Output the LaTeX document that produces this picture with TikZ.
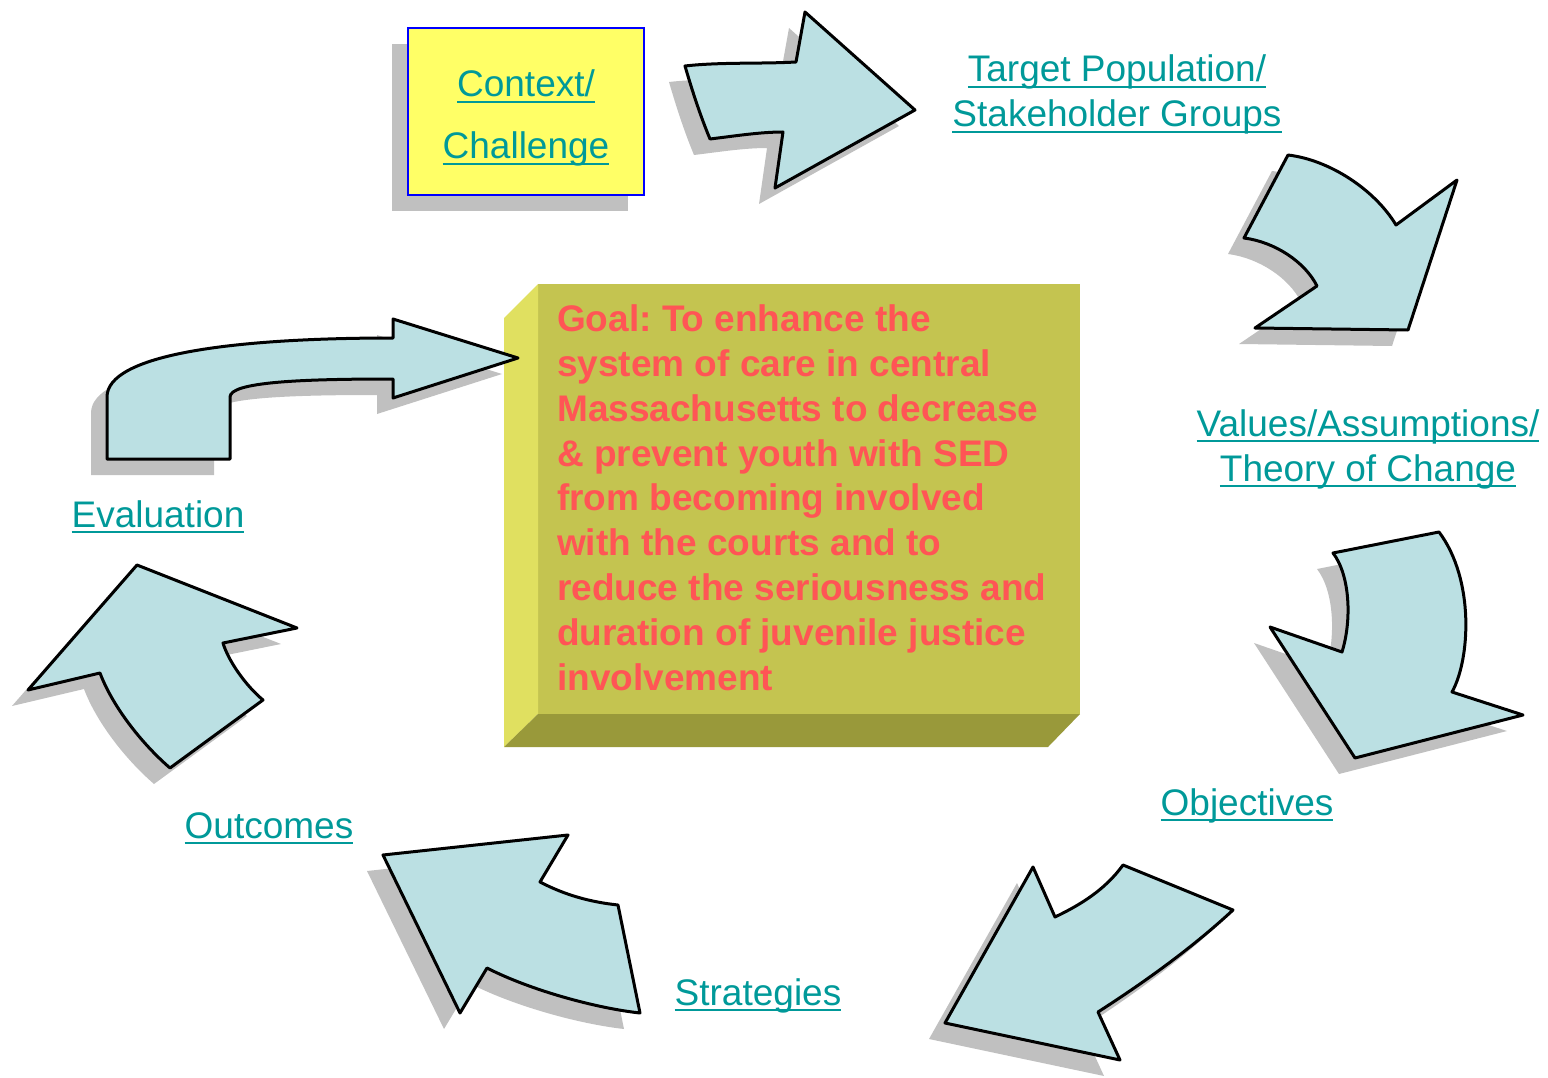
\documentclass[tikz,border=0pt]{standalone}
\usepackage{fontspec}
\setmainfont{Liberation Sans}
\frenchspacing

\definecolor{linkteal}{RGB}{0,153,153}
\definecolor{arrowblue}{RGB}{187,224,227}
\definecolor{shadowgray}{RGB}{192,192,192}
\definecolor{ctxyellow}{RGB}{255,255,102}
\definecolor{goalface}{RGB}{196,196,80}
\definecolor{goalside}{RGB}{224,224,96}
\definecolor{goalbottom}{RGB}{153,153,58}
\definecolor{goalred}{RGB}{255,85,85}

% underlined link text
\newcommand{\ulink}[1]{\leavevmode\setbox0\hbox{#1}\rlap{\rule[-6pt]{\wd0}{2.4pt}}\box0}

% arrow outlines, in pixel coordinates
\newcommand{\arrowTarget}{(685,66) .. controls (720,62) and (760,64) .. (796,62) -- (805,12) -- (915,110) -- (775,188) -- (783,132) .. controls (760,132) and (735,136) .. (710,139) .. controls (700,115) and (692,90) .. (685,66) -- cycle}
\newcommand{\arrowValues}{(1288,155) .. controls (1330,160) and (1375,190) .. (1396,225) -- (1457,180) -- (1408,330) -- (1255,328) -- (1317,286) .. controls (1305,262) and (1275,242) .. (1244,238) -- cycle}
\newcommand{\arrowObjectives}{(1333,553) -- (1439,532) .. controls (1475,580) and (1470,660) .. (1452,692) -- (1523,715) -- (1355,758) -- (1270,627) -- (1342,652) .. controls (1352,620) and (1350,575) .. (1333,553) -- cycle}
\newcommand{\arrowStrategies}{(1123,865) -- (1233,910) .. controls (1190,950) and (1140,985) .. (1098,1012) -- (1120,1060) -- (945,1023) -- (1033,867) -- (1055,917) .. controls (1080,905) and (1105,890) .. (1123,865) -- cycle}
\newcommand{\arrowOutcomes}{(383,855) -- (568,835) -- (540,882) .. controls (565,895) and (590,902) .. (618,905) -- (640,1013) .. controls (595,1008) and (530,990) .. (487,968) -- (460,1013) -- cycle}
\newcommand{\arrowEvaluation}{(137,565) -- (297,628) -- (223,643) .. controls (228,660) and (245,685) .. (263,700) -- (170,768) .. controls (140,742) and (112,705) .. (100,673) -- (28,690) -- cycle}
\newcommand{\arrowGoal}{(107,459) -- (107,397) .. controls (107,355) and (230,338) .. (393,338) -- (393,319) -- (518,358) -- (393,398) -- (393,379) .. controls (300,379) and (230,382) .. (230,397) -- (230,459) -- cycle}

\begin{document}
\begin{tikzpicture}[x=1pt, y=-1pt,
    lbl/.style={text=linkteal, font=\fontsize{37}{45}\selectfont, align=center, inner sep=0pt, anchor=base},
    arrowbody/.style={fill=arrowblue, draw=black, line width=3pt, line join=round},
    arrowshadow/.style={fill=shadowgray, shift={(-16,16)}}]
    \useasboundingbox (0,0) rectangle (1548,1078);

    % context box
    \fill[shadowgray] (392,44) rectangle (628,211);
    \draw[draw=blue, line width=2.4pt, fill=ctxyellow] (408,28) rectangle (644,195);
    \node[lbl, font=\fontsize{37}{62}\selectfont] (ctx) at (526,159) {\ulink{Context/}\\\ulink{Challenge}};

    % goal box
    \fill[goalface] (538,284) rectangle (1080,714);
    \fill[goalside] (504,318) -- (538,284) -- (538,714) -- (504,747) -- cycle;
    \fill[goalbottom] (504,747) -- (538,714) -- (1080,714) -- (1048,747) -- cycle;
    \node[text=goalred, font=\bfseries\fontsize{37}{44.8}\selectfont, align=left, inner sep=0pt, anchor=base west] (goal) at (557,690)
        {Goal: To enhance the\\system of care in central\\Massachusetts to decrease\\\& prevent youth with SED\\from becoming involved\\with the courts and to\\reduce the seriousness and\\duration of juvenile justice\\involvement};

    % arrows
    \foreach \a in {\arrowTarget, \arrowValues, \arrowObjectives, \arrowStrategies, \arrowOutcomes, \arrowEvaluation, \arrowGoal} {
        \fill[arrowshadow] \a;
        \draw[arrowbody] \a;
    }

    % labels
    \node[lbl] (target) at (1117,127) {\ulink{Target Population/}\\\ulink{Stakeholder Groups}};
    \node[lbl] (values) at (1368,481) {\ulink{Values/Assumptions/}\\\ulink{Theory of Change}};
    \node[lbl] (objectives) at (1247,815) {\ulink{Objectives}};
    \node[lbl] (strategies) at (758,1005) {\ulink{Strategies}};
    \node[lbl] (outcomes) at (269,838) {\ulink{Outcomes}};
    \node[lbl] (evaluation) at (158,527) {\ulink{Evaluation}};
\end{tikzpicture}
\end{document}
